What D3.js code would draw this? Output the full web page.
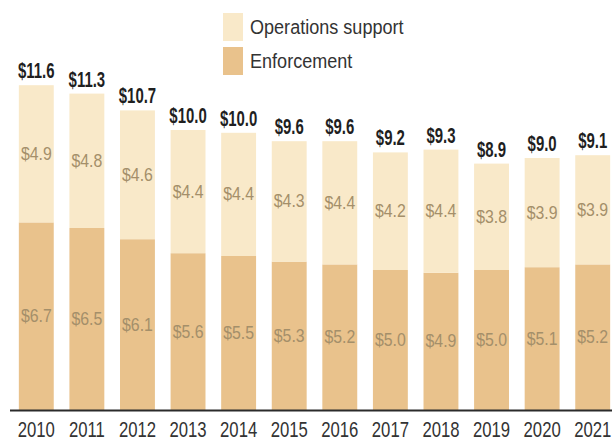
<!DOCTYPE html>
<html>
<head>
<meta charset="utf-8">
<script src="https://cdn.jsdelivr.net/npm/d3@7"></script>
<style>
  html, body { margin: 0; padding: 0; background: #ffffff; }
  svg { display: block; }
  text { font-family: "Liberation Sans", Arial, sans-serif; }
</style>
</head>
<body>
<svg id="chart" width="612" height="444"></svg>
<script>
// Budget by year, in billions of dollars
const years = ["2010","2011","2012","2013","2014","2015","2016","2017","2018","2019","2020","2021"];
const enforcement = [6.7, 6.5, 6.1, 5.6, 5.5, 5.3, 5.2, 5.0, 4.9, 5.0, 5.1, 5.2];
const operationsSupport = [4.9, 4.8, 4.6, 4.4, 4.4, 4.3, 4.4, 4.2, 4.4, 3.8, 3.9, 3.9];
const totals = [11.6, 11.3, 10.7, 10.0, 10.0, 9.6, 9.6, 9.2, 9.3, 8.9, 9.0, 9.1];

const seriesKeys = ["enforcement", "operationsSupport"];
const seriesNames = { enforcement: "Enforcement", operationsSupport: "Operations support" };
const colors = { enforcement: "#e9c28c", operationsSupport: "#f9e9c9" };

const rows = years.map((y, i) => ({
  year: y,
  enforcement: enforcement[i],
  operationsSupport: operationsSupport[i],
  total: totals[i]
}));

const svg = d3.select("#chart");
const baseline = 410;

const x = d3.scaleBand()
  .domain(years)
  .range([11, 618])
  .paddingInner(0.31)
  .paddingOuter(0.155);

const y = d3.scaleLinear()
  .domain([0, 12])
  .range([baseline, baseline - 336]);

const stacked = d3.stack().keys(seriesKeys)(rows);

// Places a text at (px, py), squeezed horizontally to get a condensed face
function place(sel, px, py, sx) {
  sel.attr("transform", (d, i) => `translate(${px(d, i)},${py(d, i)}) scale(${sx},1)`);
}

// Stacked bars
const layers = svg.append("g").selectAll("g")
  .data(stacked)
  .join("g")
  .attr("fill", d => colors[d.key]);

layers.selectAll("rect")
  .data(d => d)
  .join("rect")
  .attr("x", d => x(d.data.year))
  .attr("width", x.bandwidth())
  .attr("y", d => y(d[1]))
  .attr("height", d => y(d[0]) - y(d[1]));

// Segment value labels
layers.each(function(layer) {
  d3.select(this).selectAll("text")
    .data(layer)
    .join("text")
    .call(place,
      d => x(d.data.year) + x.bandwidth() / 2,
      d => (y(d[0]) + y(d[1])) / 2 + 6,
      0.88)
    .attr("text-anchor", "middle")
    .attr("fill", "#a48f6a")
    .attr("font-size", 18)
    .text(d => "$" + d3.format(".1f")(d.data[layer.key]));
});

// Total labels above bars
svg.append("g").selectAll("text")
  .data(rows)
  .join("text")
  .call(place,
    d => x(d.year) + x.bandwidth() / 2,
    d => y(d.enforcement + d.operationsSupport) - 7,
    0.68)
  .attr("text-anchor", "middle")
  .attr("fill", "#1f1f1f")
  .attr("font-size", 22)
  .attr("font-weight", "bold")
  .text(d => "$" + d3.format(".1f")(d.total));

// Baseline axis with year labels
const xAxis = svg.append("g")
  .attr("transform", `translate(0,${baseline})`)
  .call(d3.axisBottom(x).tickSize(0).tickPadding(11));
xAxis.select(".domain")
  .attr("d", "M10,0.5H612")
  .attr("stroke", "#2b2b2b")
  .attr("stroke-width", 2);
xAxis.selectAll(".tick text")
  .attr("font-size", 22)
  .attr("fill", "#333333")
  .attr("font-family", "'Liberation Sans', Arial, sans-serif")
  .attr("transform", "scale(0.76,1)");

// Legend
const legend = svg.append("g").attr("transform", "translate(223,13)");
const legendItems = ["operationsSupport", "enforcement"];
legendItems.forEach((k, i) => {
  const g = legend.append("g").attr("transform", `translate(0,${i * 34})`);
  g.append("rect")
    .attr("width", 20)
    .attr("height", 28)
    .attr("fill", colors[k]);
  g.append("text")
    .attr("transform", "translate(27,21) scale(0.86,1)")
    .attr("font-size", 21)
    .attr("fill", "#333333")
    .text(seriesNames[k]);
});
</script>
</body>
</html>
